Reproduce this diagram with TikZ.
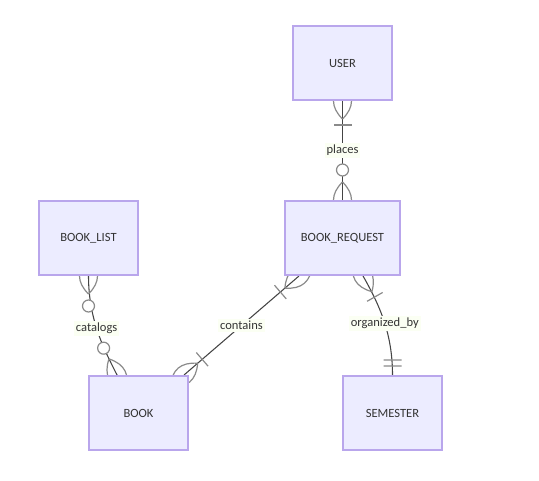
\documentclass[tikz,border=0pt]{standalone}
\usepackage{fontspec}
\setmainfont{Carlito}
\usepackage{xcolor}
\usetikzlibrary{decorations.markings}

\definecolor{entfill}{HTML}{ECECFF}
\definecolor{entline}{HTML}{B9A6EC}
\definecolor{relline}{HTML}{444444}
\definecolor{markline}{HTML}{8A8A8A}
\definecolor{lblfill}{HTML}{FBFFF3}
\definecolor{txt}{HTML}{333333}

\pgfdeclarelayer{background}
\pgfsetlayers{background,main}

% ER end markers, drawn with x pointing away from the entity
\newcommand{\crowfoot}{\draw[markpen] (-18,0) .. controls (-6,-12) and (6,-12) .. (18,0)
  (-18,0) .. controls (-6,12) and (6,12) .. (18,0);}
\newcommand{\mkonemany}{\crowfoot\draw[markpen] (24,-9) -- (24,9);}
\newcommand{\mkzeromany}{\crowfoot\draw[markpen, fill=white] (30,0) circle[radius=4.5pt];}
\newcommand{\mkexactone}{\draw[markpen] (9,-9) -- (9,9) (15,-9) -- (15,9);}

\tikzset{
  markpen/.style={draw=markline, line width=0.9pt},
  srcend/.style={postaction={decorate, decoration={markings,
    mark=at position 0 with {#1}}}},
  dstend/.style={postaction={decorate, decoration={markings,
    mark=at position 1 with {\begin{scope}[xscale=-1]#1\end{scope}}}}}
}

\begin{document}
\begin{tikzpicture}[
  x=0.75pt, y=-0.75pt,
  entity/.style={draw=entline, fill=entfill, line width=1.5pt, text=txt,
    minimum width=74.25pt, minimum height=55.5pt, font=\fontsize{9.4}{11}\selectfont},
  rel/.style={draw=relline, line width=0.8pt},
  lbl/.style={fill=lblfill, inner sep=1.5pt, text=txt, font=\fontsize{9.4}{11}\selectfont}
]
\useasboundingbox (0,0) rectangle (539,481);

\node[entity] (user) at (342.5,63) {USER};
\node[entity, minimum width=86.25pt] (req) at (342.5,238) {BOOK\_REQUEST};
\node[entity] (list) at (88.5,238) {BOOK\_LIST};
\node[entity] (book) at (138.5,413) {BOOK};
\node[entity] (sem) at (392.5,413) {SEMESTER};

\begin{pgfonlayer}{background}
\draw[rel, srcend=\mkonemany, dstend=\mkzeromany] (user.south) -- node[lbl]{places} (req.north);
\draw[rel, srcend=\mkzeromany, dstend=\mkzeromany] (list.south)
  .. controls +(0,45) and +(-12,-24) .. node[lbl, pos=0.45]{catalogs} ([xshift=-16.1pt]book.north);
\draw[rel, srcend=\mkonemany, dstend=\mkonemany] ([xshift=-3.75pt]book.north east)
  -- node[lbl]{contains} ([xshift=11.25pt]req.south west);
\draw[rel, srcend=\mkonemany, dstend=\mkexactone] ([xshift=15.4pt]req.south)
  .. controls +(17,30) and +(0,-41) .. node[lbl, pos=0.52]{organized\_by} (sem.north);
\end{pgfonlayer}
\end{tikzpicture}
\end{document}
